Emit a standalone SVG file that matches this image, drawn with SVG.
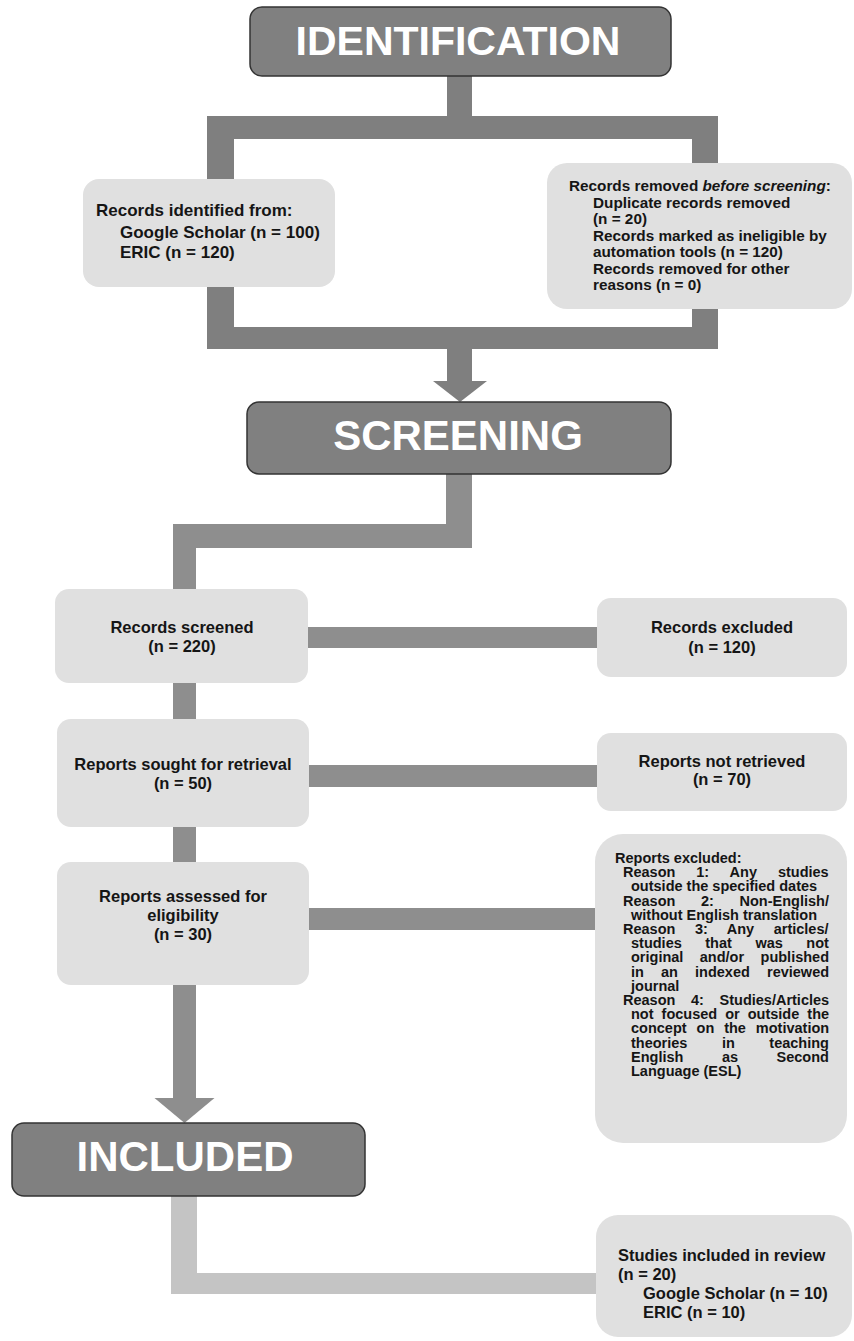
<svg xmlns="http://www.w3.org/2000/svg" width="854" height="1341" viewBox="0 0 854 1341">
<style>
.hdr{fill:#808080;stroke:#333;stroke-width:1.5}
.hdrt{font-family:"Liberation Sans",Arial,sans-serif;font-weight:bold;fill:#fff;text-anchor:middle}
.box{fill:#e0e0e0}
.t{font-family:"Liberation Sans",Arial,sans-serif;font-weight:bold;fill:#151515}
.c{text-anchor:middle}
.dk{fill:#7f7f7f}
.md{fill:#8e8e8e}
.lt{fill:#c4c4c4}
</style>
<rect width="854" height="1341" fill="#fff"/>
<g id="connectors">
  <rect class="dk" x="447" y="70" width="25" height="50"/>
  <path class="dk" fill-rule="evenodd" d="M207,116 H718 V349 H207 Z M234,139 V327 H692 V139 Z"/>
  <rect class="dk" x="447" y="345" width="25" height="37"/>
  <polygon class="dk" points="433,381 487,381 460,402"/>
  <rect class="md" x="446" y="470" width="26" height="78"/>
  <rect class="md" x="173" y="524" width="299" height="24"/>
  <rect class="md" x="173" y="524" width="23" height="68"/>
  <rect class="md" x="300" y="627" width="300" height="21"/>
  <rect class="md" x="300" y="765" width="300" height="22"/>
  <rect class="md" x="300" y="908" width="300" height="22"/>
  <rect class="md" x="173" y="680" width="23" height="42"/>
  <rect class="md" x="173" y="824" width="23" height="41"/>
  <rect class="md" x="173" y="980" width="23" height="119"/>
  <polygon class="md" points="154.5,1098 214.5,1098 184.5,1123"/>
  <rect class="lt" x="171" y="1192" width="26" height="102"/>
  <rect class="lt" x="171" y="1273" width="430" height="21"/>
</g>
<g id="identification">
  <rect class="hdr" x="250" y="7" width="421" height="69" rx="12"/>
  <text class="hdrt" x="458" y="55" font-size="41">IDENTIFICATION</text>
</g>
<g id="records-identified">
  <rect class="box" x="83" y="179" width="252" height="108" rx="16"/>
  <text class="t" font-size="17"><tspan x="96" y="216">Records identified from:</tspan><tspan x="120" y="238">Google Scholar (n = 100)</tspan><tspan x="120" y="258">ERIC (n = 120)</tspan></text>
</g>
<g id="records-removed">
  <rect class="box" x="547" y="163" width="305" height="146" rx="20"/>
  <text class="t" font-size="15.3"><tspan x="569" y="191">Records removed <tspan font-style="italic">before screening</tspan>:</tspan><tspan x="593" y="207.5">Duplicate records removed</tspan><tspan x="593" y="224">(n = 20)</tspan><tspan x="593" y="240.5">Records marked as ineligible by</tspan><tspan x="593" y="257">automation tools (n = 120)</tspan><tspan x="593" y="273.5">Records removed for other</tspan><tspan x="593" y="290">reasons (n = 0)</tspan></text>
</g>
<g id="screening">
  <rect class="hdr" x="247" y="402" width="424" height="72" rx="12"/>
  <text class="hdrt" x="458" y="450" font-size="42">SCREENING</text>
</g>
<g id="records-screened">
  <rect class="box" x="55" y="589" width="253" height="94" rx="14"/>
  <text class="t c" font-size="16.5"><tspan x="182" y="633">Records screened</tspan><tspan x="182" y="652">(n = 220)</tspan></text>
</g>
<g id="records-excluded">
  <rect class="box" x="597" y="598" width="250" height="79" rx="14"/>
  <text class="t c" font-size="16.5"><tspan x="722" y="633">Records excluded</tspan><tspan x="722" y="653">(n = 120)</tspan></text>
</g>
<g id="reports-sought">
  <rect class="box" x="57" y="719" width="252" height="108" rx="14"/>
  <text class="t c" font-size="16.5"><tspan x="183" y="770">Reports sought for retrieval</tspan><tspan x="183" y="789">(n = 50)</tspan></text>
</g>
<g id="reports-not-retrieved">
  <rect class="box" x="597" y="733" width="250" height="78" rx="14"/>
  <text class="t c" font-size="16.5"><tspan x="722" y="767">Reports not retrieved</tspan><tspan x="722" y="785">(n = 70)</tspan></text>
</g>
<g id="reports-assessed">
  <rect class="box" x="57" y="862" width="252" height="123" rx="14"/>
  <text class="t c" font-size="16.5"><tspan x="183" y="902">Reports assessed for</tspan><tspan x="183" y="921">eligibility</tspan><tspan x="183" y="940">(n = 30)</tspan></text>
</g>
<g id="reports-excluded">
  <rect class="box" x="595" y="834" width="252" height="309" rx="28"/>
  <g class="t" font-size="14.5">
    <text x="615" y="863">Reports excluded:</text>
    <text x="623" y="877.2" word-spacing="16.9">Reason 1: Any studies</text>
    <text x="631" y="891.4">outside the specified dates</text>
    <text x="623" y="905.6" word-spacing="21.6">Reason 2: Non-English/</text>
    <text x="631" y="919.8">without English translation</text>
    <text x="623" y="934" word-spacing="15.5">Reason 3: Any articles/</text>
    <text x="631" y="948.2" word-spacing="19.5">studies that was not</text>
    <text x="631" y="962.4" word-spacing="12.4">original and/or published</text>
    <text x="631" y="976.6" word-spacing="13.1">in an indexed reviewed</text>
    <text x="631" y="990.8">journal</text>
    <text x="623" y="1005" word-spacing="11.6">Reason 4: Studies/Articles</text>
    <text x="631" y="1019.2" word-spacing="4">not focused or outside the</text>
    <text x="631" y="1033.4" word-spacing="5.9">concept on the motivation</text>
    <text x="631" y="1047.6" word-spacing="30.5">theories in teaching</text>
    <text x="631" y="1061.8" word-spacing="34.5">English as Second</text>
    <text x="631" y="1076">Language (ESL)</text>
  </g>
</g>
<g id="included">
  <rect class="hdr" x="12" y="1123" width="353" height="73" rx="12"/>
  <text class="hdrt" x="185" y="1171" font-size="42">INCLUDED</text>
</g>
<g id="studies-included">
  <rect class="box" x="596" y="1215" width="256" height="122" rx="22"/>
  <text class="t" font-size="16.5"><tspan x="618" y="1261">Studies included in review</tspan><tspan x="618" y="1280">(n = 20)</tspan><tspan x="643" y="1299">Google Scholar (n = 10)</tspan><tspan x="643" y="1318">ERIC (n = 10)</tspan></text>
</g>
</svg>
